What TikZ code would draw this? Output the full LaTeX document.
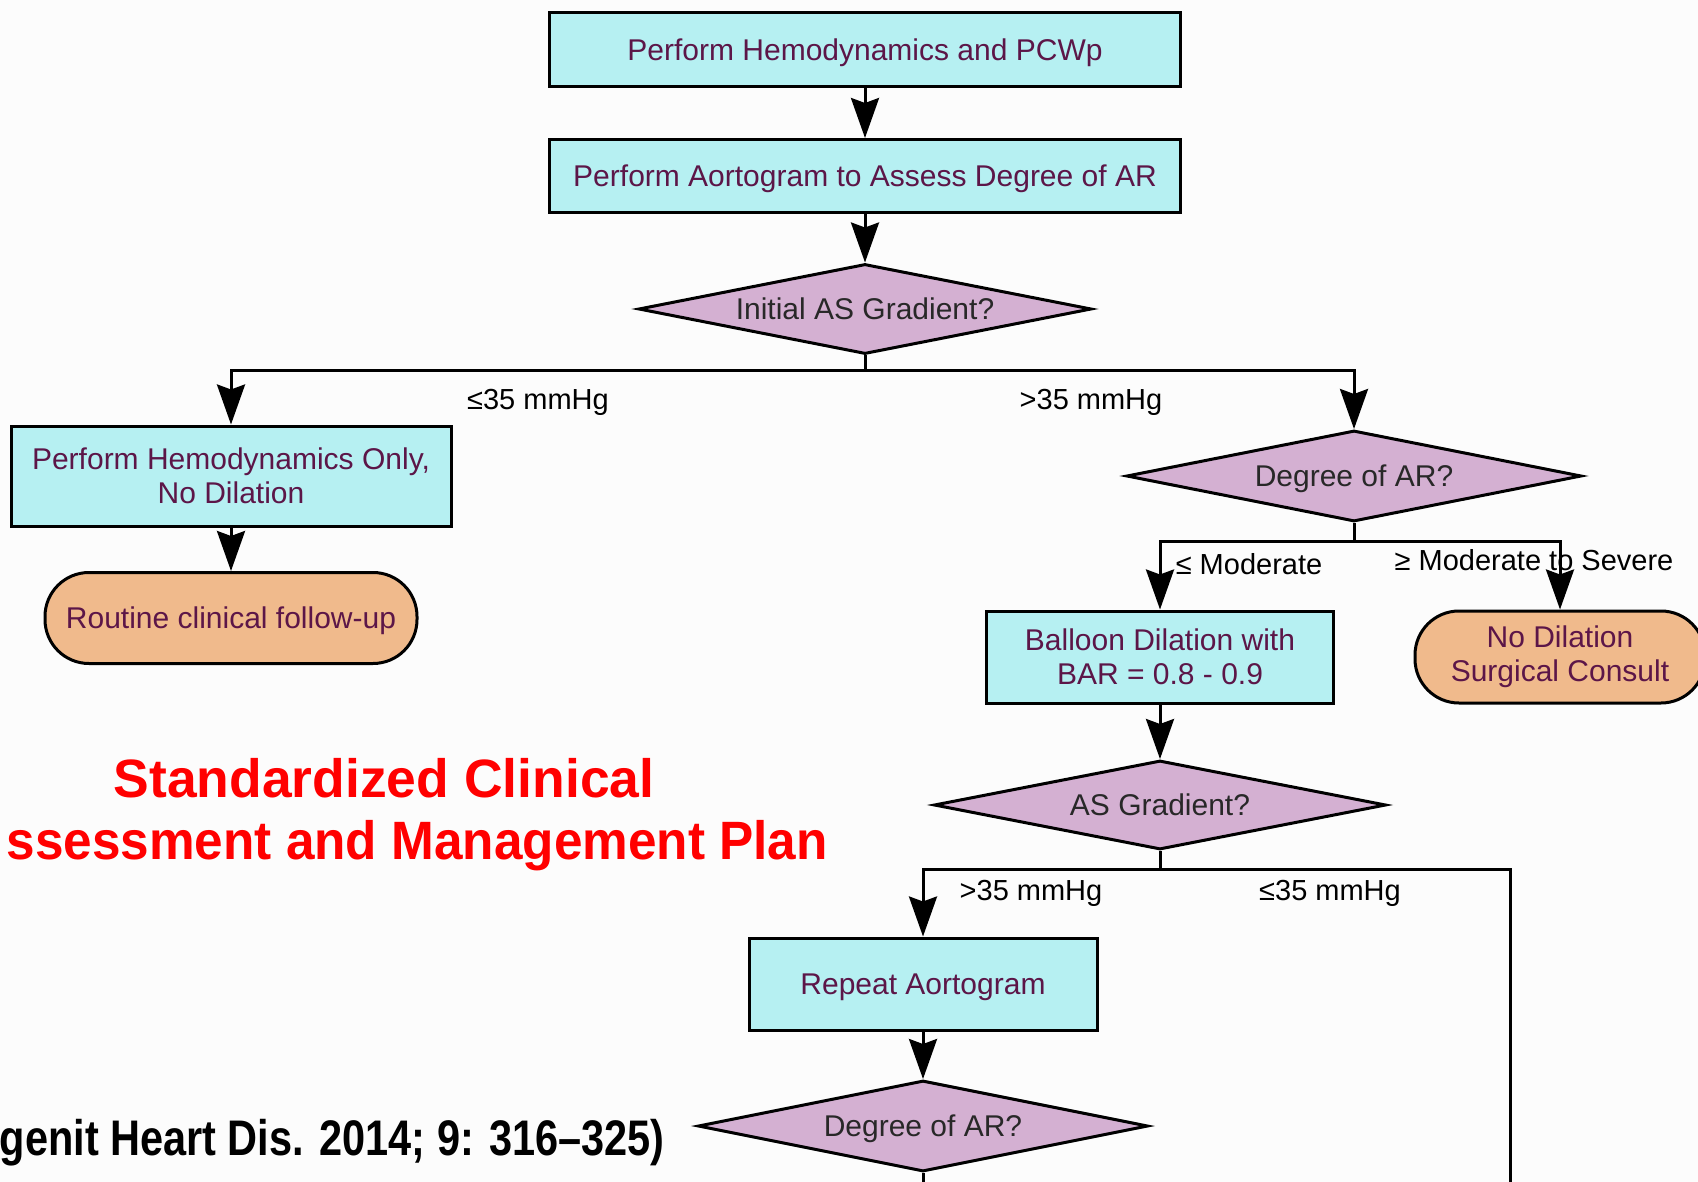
\documentclass[tikz,border=0pt]{standalone}
\usepackage{fontspec}
\setmainfont{Liberation Sans}
\usetikzlibrary{shapes.geometric,arrows.meta}
\definecolor{boxfill}{RGB}{182,240,242}
\definecolor{diafill}{RGB}{212,176,210}
\definecolor{termfill}{RGB}{240,186,140}
\definecolor{boxtext}{RGB}{92,22,72}
\definecolor{diatext}{RGB}{40,40,40}
\definecolor{titlered}{RGB}{255,0,0}
\definecolor{bgcol}{RGB}{252,252,252}
\begin{document}
\begin{tikzpicture}[x=1pt,y=-1pt,
  box/.style={draw=black, line width=3pt, fill=boxfill, text=boxtext,
    font=\fontsize{30}{34}\selectfont, align=center, inner sep=0pt},
  dia/.style={diamond, draw=black, line width=3pt, fill=diafill, text=diatext,
    font=\fontsize{30}{34}\selectfont, inner sep=0pt, aspect=5},
  term/.style={draw=black, line width=3pt, fill=termfill, text=boxtext,
    rounded corners=44pt, font=\fontsize{30}{34}\selectfont, align=center, inner sep=0pt},
  oneline/.style={text depth=0pt},
  lbl/.style={font=\fontsize{29}{34}\selectfont, text=black, inner sep=0pt},
  ttl/.style={font=\fontsize{54}{60}\selectfont\bfseries, text=titlered, inner sep=0pt},
  cite/.style={font=\fontsize{50}{56}\selectfont\bfseries, text=black, inner sep=0pt},
  conn/.style={line width=3pt, draw=black},
  arr/.style={conn, -{Stealth[length=40pt,width=28pt,inset=5pt]}}
]
\useasboundingbox (0,0) rectangle (1698,1182);
\clip (0,0) rectangle (1698,1182);
\fill[bgcol] (0,0) rectangle (1698,1182);

% title and citation
\node[ttl, anchor=base] (title1) at (384,797) {\scalebox{0.99}[1]{Standardized Clinical}};
\node[ttl, anchor=base east] (title2) at (828,859) {\scalebox{0.95}[1]{ssessment and Management Plan}};
\node[cite, anchor=base east] (citation) at (665,1155) {\scalebox{0.83}[1]{genit Heart Dis. 2014; 9: 316–325)}};

% nodes
\node[box, oneline, minimum width=631pt, minimum height=74pt] (b1) at (865,50) {Perform Hemodynamics and PCWp};
\node[box, oneline, minimum width=631pt, minimum height=73pt] (b2) at (865,176) {Perform Aortogram to Assess Degree of AR};
\node[dia, minimum width=453pt, minimum height=90pt] (d1) at (865,309) {Initial AS Gradient?};
\node[box, minimum width=440pt, minimum height=100pt] (b3) at (231,476) {Perform Hemodynamics Only,\\No Dilation};
\node[term, oneline, minimum width=372pt, minimum height=91pt] (t1) at (231,618) {Routine clinical follow-up};
\node[dia, oneline, minimum width=455pt, minimum height=91pt] (d2) at (1354,476) {Degree of AR?};
\node[box, minimum width=347pt, minimum height=92pt] (b4) at (1160,657) {Balloon Dilation with\\BAR = 0.8 - 0.9};
\node[term, minimum width=290pt, minimum height=92pt] (t2) at (1560,657) {No Dilation\\Surgical Consult};
\node[dia, minimum width=452pt, minimum height=89pt] (d3) at (1160,805) {AS Gradient?};
\node[box, oneline, minimum width=348pt, minimum height=92pt] (b5) at (923,984) {Repeat Aortogram};
\node[dia, oneline, minimum width=450pt, minimum height=91pt] (d4) at (923,1126) {Degree of AR?};

% labels
\node[lbl] (l1) at (538,402) {≤35 mmHg};
\node[lbl] (l2) at (1091,402) {>35 mmHg};
\node[lbl] (l3) at (1249,564) {≤ Moderate};
\node[lbl] (l4) at (1534,560) {≥ Moderate to Severe};
\node[lbl] (l5) at (1031,893) {>35 mmHg};
\node[lbl] (l6) at (1330,893) {≤35 mmHg};

% junctions
\coordinate (j1) at (865,371);
\coordinate (j2) at (1354,541);
\coordinate (j3) at (1160,869);
\coordinate (e3) at (1510,1195);
\coordinate (e4) at (923,1195);

% connectors
\draw[arr] (b1) -- (b2);
\draw[arr] (b2) -- (d1);
\draw[conn] (d1.south) -- (j1);
\draw[arr] (j1) -| (b3.north);
\draw[arr] (j1) -| (d2.north);
\draw[arr] (b3) -- (t1);
\draw[conn] (d2.south) -- (j2);
\draw[arr] (j2) -| (b4.north);
\draw[arr] (j2) -| (t2.north);
\draw[arr] (b4) -- (d3);
\draw[conn] (d3.south) -- (j3);
\draw[arr] (j3) -| (b5.north);
\draw[conn] (j3) -| (e3);
\draw[arr] (b5) -- (d4);
\draw[conn] (d4.south) -- (e4);
\end{tikzpicture}
\end{document}
